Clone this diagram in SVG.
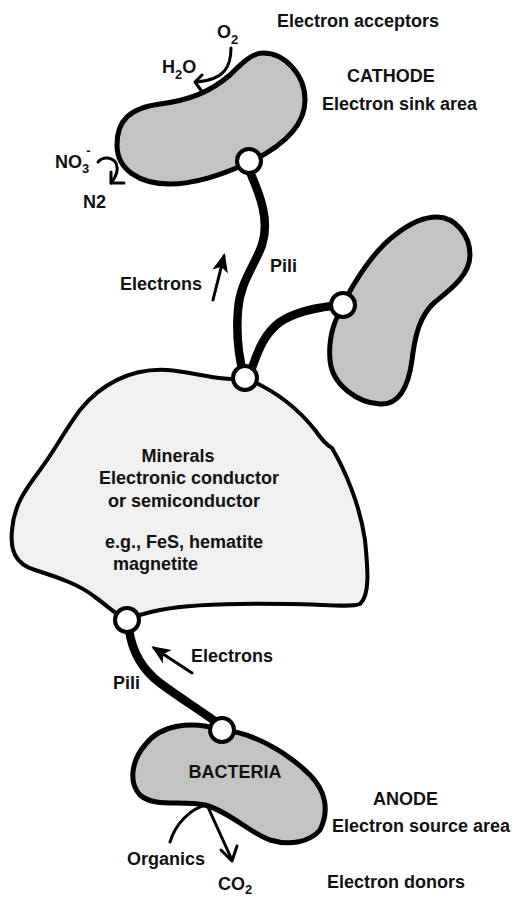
<svg xmlns="http://www.w3.org/2000/svg" width="517" height="897" viewBox="0 0 517 897">
<style>
  text { font-family: "Liberation Sans", Arial, sans-serif; font-weight: bold; font-size: 18px; fill: #111; }
  .sub { font-size: 13px; }
  .cell { fill: #c3c3c3; stroke: #000; stroke-width: 5; stroke-linejoin: round; }
  .mineral { fill: #f0f0f0; stroke: #000; stroke-width: 4; stroke-linejoin: round; }
  .port { fill: #fff; stroke: #000; stroke-width: 4; }
  .pili { fill: none; stroke: #000; stroke-width: 8.5; stroke-linecap: round; }
  .thin { fill: none; stroke: #000; stroke-width: 3; stroke-linecap: round; stroke-linejoin: round; }
</style>
<defs>
  <marker id="ah" markerUnits="userSpaceOnUse" markerWidth="20" markerHeight="18" refX="16" refY="8" orient="auto">
    <path d="M0,0 L19,8 L0,16 L5,8 Z" fill="#000"/>
  </marker>
</defs>

<g id="connectors">
  <path class="pili" d="M250,172 C260,195 270,220 262,245 C255,265 240,282 238,310 C236,335 238,355 244,376"/>
  <path class="pili" d="M252,368 C258,350 265,333 280,322 C295,312 315,308 332,306"/>
  <path class="pili" d="M129,630 C132,650 140,668 160,683 C180,698 200,710 216,722"/>
  <line class="thin" x1="213" y1="300" x2="224" y2="256" stroke-width="2.5" marker-end="url(#ah)"/>
  <line class="thin" x1="192" y1="673" x2="154" y2="648" stroke-width="2.5" marker-end="url(#ah)"/>
</g>

<g id="cathode">
  <path class="cell" d="M263,53 C285,53 305,75 305,100 C305,125 285,145 250,162 C220,176 195,184 170,184 C140,184 117,170 117,145 C117,120 130,108 160,104 C190,100 210,92 230,75 C242,63 252,53 263,53 Z"/>
  <circle class="port" cx="249" cy="161" r="12"/>
  <path class="thin" d="M231,48 C231,66 225,80 196,82"/>
  <path class="thin" d="M202,75 L195,82 L203,93"/>
  <path class="thin" d="M98,162 C103,156 112,157 116,163 C119,170 116,177 111,183"/>
  <path class="thin" d="M111,172 L111,183 L124,183"/>
</g>

<g id="cell2">
  <path class="cell" d="M437,217 C455,217 470,235 470,255 C470,275 450,290 435,302 C420,315 415,335 412,360 C408,390 398,405 380,404 C358,403 332,385 330,360 C328,335 335,320 345,300 C360,272 375,250 395,235 C410,223 425,217 437,217 Z"/>
  <circle class="port" cx="343" cy="305" r="12"/>
</g>

<g id="minerals">
  <path class="mineral" d="M245,378 C270,388 295,405 315,430 C322,440 328,446 332,448 C345,470 360,505 365,540 C368,570 370,595 360,604 C350,608 320,604 290,604 C240,603 190,604 160,610 C145,613 135,616 127,620 C115,614 105,604 95,597 C80,585 60,578 35,570 C15,564 10,550 12,530 C14,505 25,490 40,470 C55,450 65,430 80,410 C100,385 130,368 167,370 C195,372 220,382 245,378 Z"/>
  <circle class="port" cx="245" cy="378" r="12"/>
  <circle class="port" cx="127" cy="620" r="12"/>
  <text x="178" y="462" text-anchor="middle">Minerals</text>
  <text x="189" y="484" text-anchor="middle">Electronic conductor</text>
  <text x="184" y="507" text-anchor="middle">or semiconductor</text>
  <text x="184" y="548" text-anchor="middle">e.g., FeS, hematite</text>
  <text x="113" y="570">magnetite</text>
</g>

<g id="bacteria">
  <path class="cell" d="M222,730 C250,732 285,750 310,775 C325,790 330,810 320,830 C310,842 290,846 270,840 C250,833 230,812 205,805 C180,800 155,808 140,795 C128,782 132,760 145,745 C160,725 190,720 222,730 Z"/>
  <circle class="port" cx="222" cy="730" r="12"/>
  <text x="235" y="778" text-anchor="middle">BACTERIA</text>
  <path class="thin" d="M170,842 C175,825 190,808 207,805 L232,860"/>
  <path class="thin" d="M221,850 L232,861 L237,846"/>
</g>

<g id="labels">
  <text x="277" y="27">Electron acceptors</text>
  <text x="217" y="38">O<tspan class="sub" dy="6">2</tspan></text>
  <text x="162" y="73">H<tspan class="sub" dy="6">2</tspan><tspan dy="-6">O</tspan></text>
  <text x="347" y="82">CATHODE</text>
  <text x="322" y="110">Electron sink area</text>
  <text x="55" y="168">NO<tspan class="sub" dy="5">3</tspan><tspan class="sub" dx="-3" dy="-18">-</tspan></text>
  <text x="83" y="208">N2</text>
  <text x="120" y="290">Electrons</text>
  <text x="270" y="272">Pili</text>
  <text x="191" y="662">Electrons</text>
  <text x="113" y="689">Pili</text>
  <text x="373" y="805">ANODE</text>
  <text x="332" y="832">Electron source area</text>
  <text x="127" y="865">Organics</text>
  <text x="218" y="890">CO<tspan class="sub" dy="4">2</tspan></text>
  <text x="327" y="888">Electron donors</text>
</g>
</svg>
